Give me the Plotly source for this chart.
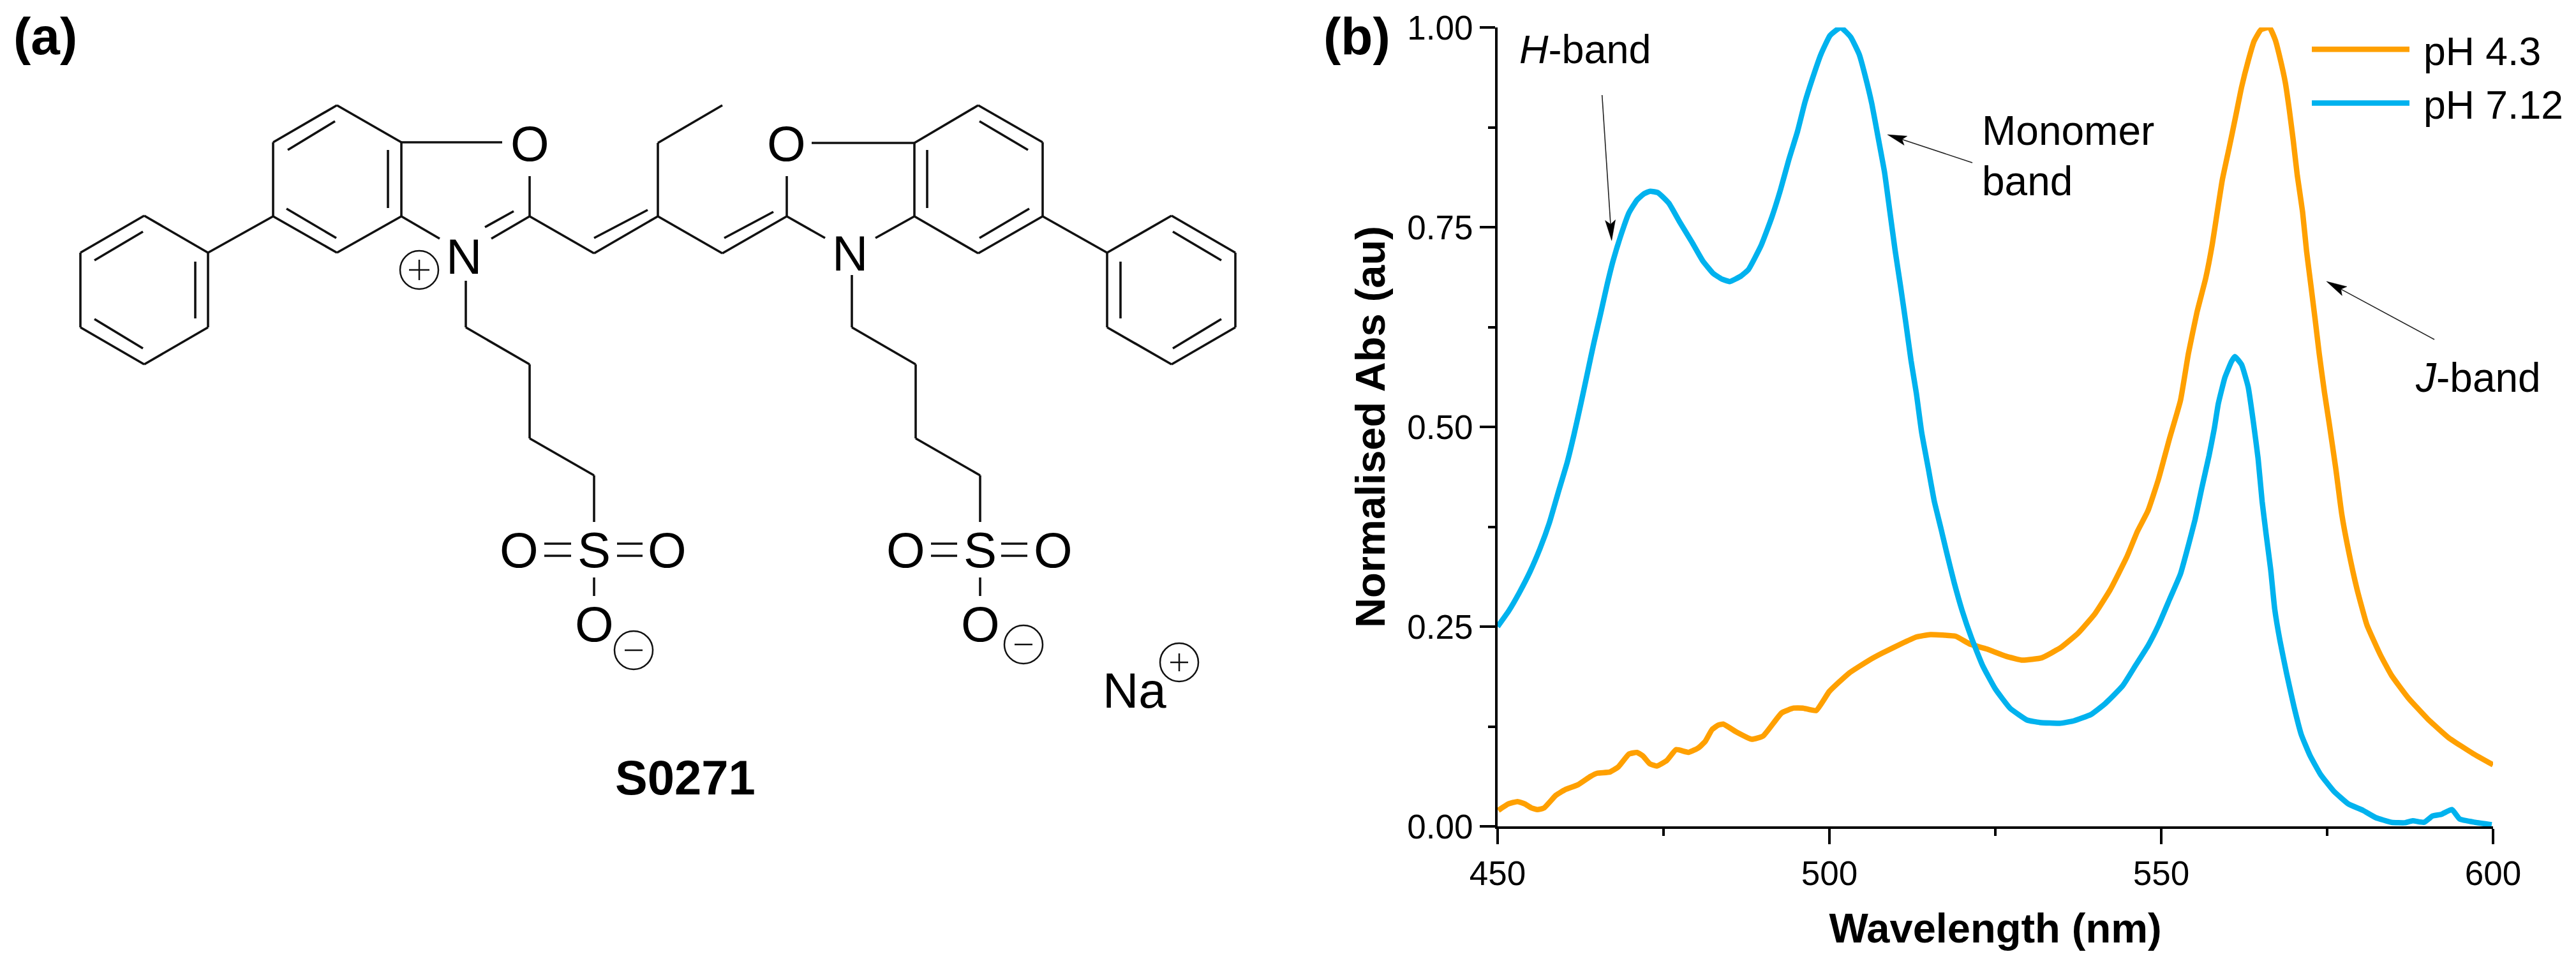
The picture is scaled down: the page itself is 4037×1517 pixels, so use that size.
import math
import plotly.graph_objects as go

FONT = "Liberation Sans"
W, H = 4037, 1517
AX_L, AX_R, AX_T, AX_B = 2347, 3907, 43, 1295

wl_orange = [450.1,451.6,453,454.1,455.1,456,457,458.8,460.2,462.1,464,465,466.9,468.2,469.8,471,471.9,472.9,474,475.5,476.9,478.8,480.3,481.3,482.3,483.2,484,486,488.3,490,492.8,494.6,496,498,500,503,506,508,511.2,513.1,515.2,519,521.2,523.7,526.6,529.1,532,534.9,537.5,540,542.3,544.8,546.4,548,549.6,551.2,552.9,554.1,555.4,556.7,557.7,558.5,559.2,560.2,561.2,562.1,563.1,564,565,566.3,567.2,567.8,568.7,569.3,569.9,570.5,571.3,571.9,572.6,573.2,573.8,574.6,575.3,576.3,577.2,578.2,579.5,581,583,584.7,587.2,590.2,593.3,597,600]
abs_orange = [.02,.028,.031,.028,.023,.021,.023,.039,.046,.052,.0625,.0665,.068,.0745,.0905,.0925,.088,.0785,.0755,.0825,.096,.0927,.0985,.1065,.121,.1265,.128,.118,.109,.113,.142,.148,.148,.145,.169,.192,.208,.217,.230,.237,.240,.238,.228,.222,.213,.208,.211,.224,.242,.266,.296,.337,.369,.395,.435,.484,.533,.592,.644,.686,.729,.772,.809,.848,.888,.925,.958,.983,.997,1.0,.984,.965,.931,.897,.858,.815,.769,.720,.674,.634,.592,.543,.505,.448,.391,.346,.297,.252,.215,.189,.161,.134,.111,.091,.077]

wl_blue = [450,451.7,453.3,454.9,456.4,457.8,459.1,460.5,461.5,462.6,463.6,464.5,465.5,466.5,467.4,468.7,469.8,471,472.1,473,474.2,475.8,477.4,479.3,480.9,482.5,483.8,485,486.7,487.8,489.7,491.3,492.6,493.9,495.2,496.3,497.4,498.7,500.1,501.7,503.2,504.5,505.4,506.4,507.3,508.3,509.1,509.9,510.7,511.5,512.3,513.1,513.9,514.9,515.8,516.8,517.6,518.8,520,521.4,523.1,525,527.2,529.8,531.7,534.7,536.8,539.4,541.6,544.2,546.1,548,549.6,551.3,552.9,554.1,555.1,556.1,557.2,558,558.6,559.6,560.6,561.1,562.1,563.1,563.9,564.6,565.2,565.8,566.5,567.1,567.9,568.9,570,571.1,572.4,574,576,578.2,580.4,582.3,584.7,586.7,587.9,589.6,590.9,592.2,593.8,595,597.3,599.8]
abs_blue = [.25,.270,.293,.319,.348,.380,.417,.456,.490,.531,.570,.605,.641,.678,.708,.743,.768,.784,.792,.795,.793,.780,.757,.731,.708,.692,.685,.682,.689,.697,.727,.762,.796,.835,.870,.906,.935,.966,.990,1.0,.988,.966,.939,.904,.864,.819,.770,.721,.677,.631,.583,.542,.493,.448,.407,.373,.345,.305,.270,.236,.201,.172,.148,.133,.130,.129,.132,.140,.154,.176,.201,.226,.252,.285,.316,.352,.384,.423,.464,.498,.529,.562,.582,.588,.578,.55,.505,.46,.407,.366,.321,.272,.232,.191,.15,.115,.089,.065,.044,.028,.02,.011,.005,.0045,.007,.005,.013,.015,.021,.009,.005,.002]

series_names = ["pH 4.3", "pH 7.12"]
x_ticks = [450, 500, 550, 600]
x_minor = [475, 525, 575]
y_ticks = [0, 0.25, 0.5, 0.75, 1.0]
y_minor = [0.125, 0.375, 0.625, 0.875]

# Molecular structure, figure pixels: (x0, y0, x1, y1) per bond
bonds = [
 (226,338,326,396),(326,396,326,513),(326,513,226,571),(226,571,126,513),(126,513,126,396),(126,396,226,338),
 (224,363,148,408),(306,410,306,499),(148,500,224,546),
 (326,396,428,339),
 (528,165,629,223),(629,223,629,339),(629,339,528,396),(528,396,428,339),(428,339,428,223),(428,223,528,165),
 (525,190,451,235),(608,235,608,326),(449,327,527,373),
 (629,223,787,223),(830,276,830,339),(629,339,689,374),(830,339,770,374),(805,331,760,356),
 (730,440,730,513),(730,513,830,571),(830,571,830,687),(830,687,931,745),(931,745,931,818),
 (853,852,895,852),(853,871,895,871),(967,852,1007,852),(967,871,1007,871),(931,905,931,934),
 (830,339,931,397),(931,397,1031,339),(931,373,1015,329),(1031,339,1031,224),(1031,224,1132,165),
 (1031,339,1132,397),(1132,397,1233,339),(1135,373,1212,332),(1233,339,1293,373),(1233,339,1233,276),
 (1272,224,1433,224),
 (1533,165,1634,223),(1634,223,1634,339),(1634,339,1533,397),(1533,397,1433,339),(1433,339,1433,224),(1433,224,1533,165),
 (1453,235,1453,326),(1535,190,1611,235),(1535,373,1613,327),
 (1372,373,1433,339),
 (1634,339,1735,396),
 (1836,338,1936,396),(1936,396,1936,513),(1936,513,1836,571),(1836,571,1735,513),(1735,513,1735,396),(1735,396,1836,338),
 (1838,363,1914,408),(1756,410,1756,499),(1914,500,1838,546),
 (1335,431,1335,513),(1335,513,1435,571),(1435,571,1435,687),(1435,687,1536,745),(1536,745,1536,818),
 (1459,852,1500,852),(1459,871,1500,871),(1569,852,1610,852),(1569,871,1610,871),(1536,905,1536,934),
]
charge_circles = [(657,423),(993,1019),(1604,1010),(1848,1038)]
charge_marks = [
 (641,423,673,423),(657,407,657,439),
 (979,1019,1007,1019),(1590,1010,1618,1010),
 (1834,1038,1862,1038),(1848,1024,1848,1052),
]
atom_labels = [
 ("O",830,225),("N",727,402),("S",931,862),("O",813,862),("O",1045,862),("O",931,978),
 ("O",1232,225),("N",1332,397),("S",1536,862),("O",1419,862),("O",1650,862),("O",1536,978),
 ("Na",1778,1082),
]
# Call-out arrows, figure pixels: tail x, tail y, tip x, tip y, head length
callouts = [(2510.7,149,2525.7,377,32),(3091,255,2958,211,30),(3815,532,3646,441,32)]

def seg_xy(segs):
    xs, ys = [], []
    for a, b, c, d in segs:
        xs += [a, c, None]; ys += [b, d, None]
    return xs, ys

fig = go.Figure()
fig.add_trace(go.Scatter(x=wl_orange, y=abs_orange, mode="lines", name=series_names[0],
                         line=dict(color="#FFA000", width=8.5, shape="spline", smoothing=0.4)))
fig.add_trace(go.Scatter(x=wl_blue, y=abs_blue, mode="lines", name=series_names[1],
                         line=dict(color="#00B2EE", width=8.5, shape="spline", smoothing=0.4)))
bx, by = seg_xy(bonds)
fig.add_trace(go.Scatter(x=bx, y=by, xaxis="x2", yaxis="y2", mode="lines", showlegend=False,
                         hoverinfo="skip", line=dict(color="#111111", width=3.6)))
cx, cy = seg_xy(charge_marks)
fig.add_trace(go.Scatter(x=cx, y=cy, xaxis="x2", yaxis="y2", mode="lines", showlegend=False,
                         hoverinfo="skip", line=dict(color="#111111", width=2.5)))
lx, ly, hx, hy = [], [], [], []
for x0, y0, x1, y1, L in callouts:
    d = math.hypot(x1-x0, y1-y0); ux, uy = (x1-x0)/d, (y1-y0)/d
    lx += [x0, x1-ux*L*0.8, None]; ly += [y0, y1-uy*L*0.8, None]
    bxc, byc = x1-ux*L, y1-uy*L
    nx, ny = x1-ux*L*0.8, y1-uy*L*0.8
    w = L*0.25
    hx += [x1, bxc-uy*w, nx, bxc+uy*w, x1, None]
    hy += [y1, byc+ux*w, ny, byc-ux*w, y1, None]
fig.add_trace(go.Scatter(x=lx, y=ly, xaxis="x2", yaxis="y2", mode="lines", showlegend=False,
                         hoverinfo="skip", line=dict(color="#222222", width=1.6)))
fig.add_trace(go.Scatter(x=hx, y=hy, xaxis="x2", yaxis="y2", mode="lines", fill="toself", fillcolor="#000000",
                         showlegend=False, hoverinfo="skip", line=dict(color="#000000", width=0.5)))

shapes = [dict(type="circle", xref="x2", yref="y2", x0=x-30, x1=x+30, y0=y-30, y1=y+30,
               line=dict(color="#111111", width=2.5)) for x, y in charge_circles]

def txt(text, x, y, size, bold=False, anchor="center"):
    t = f"<b>{text}</b>" if bold else text
    return dict(text=t, x=x, y=y, xref="x2", yref="y2", showarrow=False, xanchor=anchor,
                yanchor="middle", font=dict(family=FONT, size=size, color="#000000"))

ann = [txt(s, x, y, 78) for s, x, y in atom_labels]
ann += [txt("S0271", 1074, 1218, 76, True), txt("(a)", 71, 56, 82, True), txt("(b)", 2126, 56, 82, True),
        txt("<i>H</i>-band", 2379, 77, 63, anchor="left"),
        txt("Monomer", 3104, 205, 64, anchor="left"), txt("band", 3104, 284, 64, anchor="left"),
        txt("<i>J</i>-band", 3783, 592, 64, anchor="left")]

axis_common = dict(showline=True, linecolor="#000000", linewidth=4, ticks="outside", ticklen=24,
                   tickwidth=4, tickcolor="#000000", showgrid=False, zeroline=False, automargin=False,
                   tickfont=dict(family=FONT, size=53, color="#000000"))
fig.update_layout(
    width=W, height=H, autosize=False, margin=dict(l=0, r=0, t=0, b=0, autoexpand=False),
    paper_bgcolor="#ffffff", plot_bgcolor="rgba(0,0,0,0)", shapes=shapes, annotations=ann,
    xaxis=dict(domain=[AX_L/W, AX_R/W], range=[450, 600], tickvals=x_ticks,
               minor=dict(tickvals=x_minor, ticks="outside", ticklen=11, tickwidth=4, tickcolor="#000000", showgrid=False),
               title=dict(text="<b>Wavelength (nm)</b>", font=dict(family=FONT, size=65, color="#000000"), standoff=36),
               **axis_common),
    yaxis=dict(domain=[1-AX_B/H, 1-AX_T/H], range=[0, 1], tickvals=y_ticks, tickformat=".2f",
               minor=dict(tickvals=y_minor, ticks="outside", ticklen=11, tickwidth=4, tickcolor="#000000", showgrid=False),
               title=dict(text="<b>Normalised Abs (au)</b>", font=dict(family=FONT, size=65, color="#000000"), standoff=14),
               **axis_common),
    xaxis2=dict(domain=[0, 1], range=[0, W], visible=False, anchor="y2"),
    yaxis2=dict(domain=[0, 1], range=[H, 0], visible=False, anchor="x2"),
    legend=dict(x=3618/W, y=1-30/H, xanchor="left", yanchor="top", bgcolor="rgba(0,0,0,0)",
                itemwidth=153, font=dict(family=FONT, size=62.5, color="#000000"), tracegroupgap=0),
)
fig.write_html("out.html", config=dict(displayModeBar=False),
               post_script="document.body.style.margin='0';document.documentElement.style.overflow='hidden';"
                           "document.querySelectorAll('.legendtext').forEach(t=>t.setAttribute('x',parseFloat(t.getAttribute('x'))+17));"
                           "document.querySelectorAll('.legend .scrollbox').forEach(s=>{s.removeAttribute('clip-path');s.style.clipPath='none';});")
